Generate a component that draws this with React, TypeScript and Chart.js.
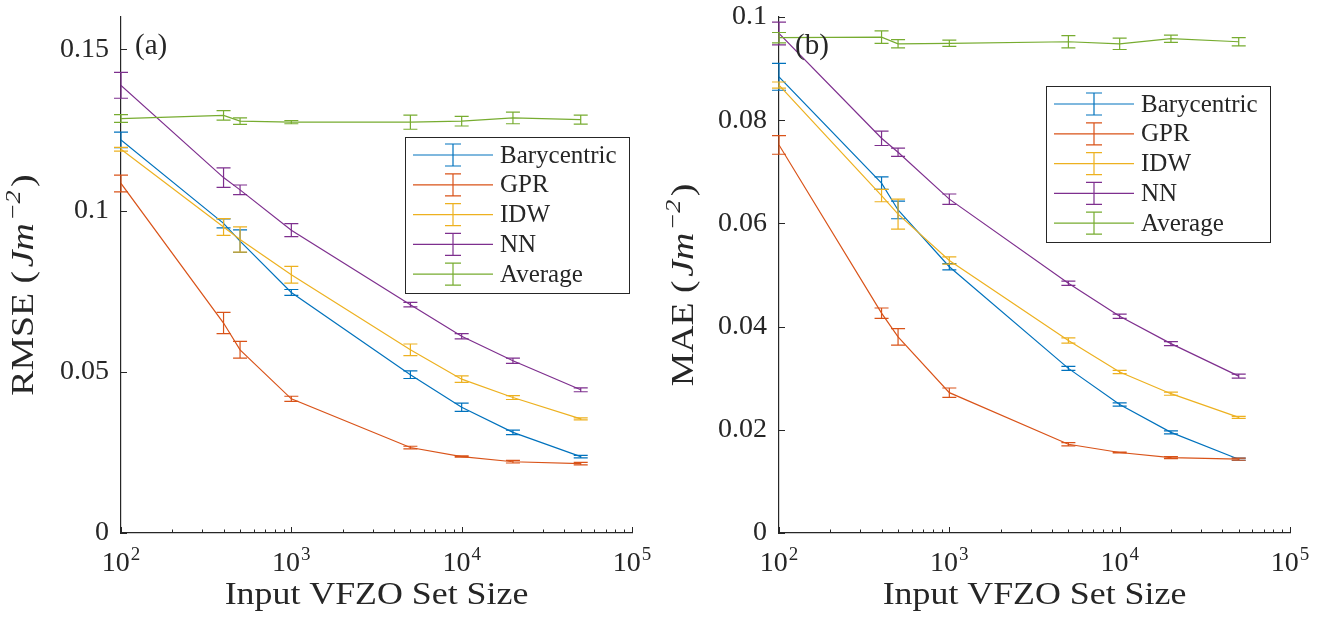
import React, { useEffect, useRef } from "react";
import { Chart, registerables } from "chart.js";

Chart.register(...registerables);

// ---------- data ----------
const xValues = [100, 400, 500, 1000, 5000, 10000, 20000, 50000];
const seriesNames = ["Barycentric", "GPR", "IDW", "NN", "Average"];
const seriesColors = ["#0072BD", "#D95319", "#EDB120", "#7E2F8E", "#77AC30"];

// Panel (a) RMSE
const rmseBarycentric = [0.1219, 0.096, 0.0905, 0.0746, 0.0491, 0.039, 0.0312, 0.0237];
const rmseBarycentricErr = [0.0024, 0.0014, 0.0035, 0.0009, 0.0012, 0.0013, 0.0007, 0.0004];
const rmseGPR = [0.1084, 0.0651, 0.0568, 0.0416, 0.0265, 0.0237, 0.0221, 0.0215];
const rmseGPRErr = [0.0026, 0.0033, 0.0026, 0.0008, 0.0004, 0.0002, 0.0004, 0.0004];
const rmseIDW = [0.119, 0.0949, 0.091, 0.0801, 0.0568, 0.0477, 0.042, 0.0354];
const rmseIDWErr = [0.0006, 0.0026, 0.0039, 0.0026, 0.0018, 0.001, 0.0006, 0.0003];
const rmseNN = [0.1388, 0.1102, 0.1064, 0.0939, 0.0708, 0.061, 0.0534, 0.0444];
const rmseNNErr = [0.004, 0.003, 0.0015, 0.002, 0.0007, 0.0008, 0.0008, 0.0006];
const rmseAverage = [0.1285, 0.1295, 0.1277, 0.1274, 0.1274, 0.1277, 0.1287, 0.1282];
const rmseAverageErr = [0.0012, 0.0015, 0.001, 0.0005, 0.0022, 0.0015, 0.0018, 0.0014];

// Panel (b) MAE
const maeBarycentric = [0.0884, 0.0678, 0.0626, 0.0516, 0.0319, 0.0249, 0.0195, 0.0143];
const maeBarycentricErr = [0.0026, 0.0012, 0.0017, 0.0006, 0.0004, 0.0003, 0.0003, 0.0002];
const maeGPR = [0.0752, 0.0426, 0.038, 0.0272, 0.0172, 0.0156, 0.0146, 0.0143];
const maeGPRErr = [0.0018, 0.001, 0.0016, 0.0009, 0.0003, 0.0001, 0.0002, 0.0002];
const maeIDW = [0.0868, 0.0654, 0.0618, 0.0528, 0.0373, 0.0312, 0.027, 0.0224];
const maeIDWErr = [0.0006, 0.0012, 0.0029, 0.0007, 0.0005, 0.0003, 0.0003, 0.0002];
const maeNN = [0.0968, 0.0765, 0.0738, 0.0647, 0.0484, 0.042, 0.0367, 0.0304];
const maeNNErr = [0.0022, 0.0014, 0.0008, 0.001, 0.0004, 0.0004, 0.0004, 0.0004];
const maeAverage = [0.096, 0.0961, 0.0948, 0.0949, 0.0952, 0.0948, 0.0958, 0.0952];
const maeAverageErr = [0.001, 0.0012, 0.0008, 0.0006, 0.0012, 0.0011, 0.0007, 0.0008];

// ticks
const xTickValues = [100, 1000, 10000, 100000];
const xTickBase = ["10", "10", "10", "10"];
const xTickExponents = ["2", "3", "4", "5"];
const xMinorMultipliers = [2, 3, 4, 5, 6, 7, 8, 9];
const rmseYTicks = [0, 0.05, 0.1, 0.15];
const rmseYTickLabels = ["0", "0.05", "0.1", "0.15"];
const maeYTicks = [0, 0.02, 0.04, 0.06, 0.08, 0.1];
const maeYTickLabels = ["0", "0.02", "0.04", "0.06", "0.08", "0.1"];

const xTitle = "Input VFZO Set Size";
const unitText = "Jm";
const unitExponent = "\u22122";

// ---------- style ----------
const FONT = "'Liberation Serif', 'Times New Roman', serif";
const AXIS = "#262626";
const TEXT = "#262626";
const STRETCH = 1.12;
const Y_STRETCH = 1.18;

type PanelCfg = {
  left: number;
  width: number;
  yAxisWidth: number;
  padRight: number;
  yMax: number;
  yTicks: number[];
  yTickLabels: string[];
  yName: string;
  panelLabel: string;
  values: number[][];
  errors: number[][];
  legendX: number;
  legendY: number;
};

const panels: PanelCfg[] = [
  {
    left: 0,
    width: 660,
    yAxisWidth: 121,
    padRight: 28,
    yMax: 0.16,
    yTicks: rmseYTicks,
    yTickLabels: rmseYTickLabels,
    yName: "RMSE",
    panelLabel: "(a)",
    values: [rmseBarycentric, rmseGPR, rmseIDW, rmseNN, rmseAverage],
    errors: [rmseBarycentricErr, rmseGPRErr, rmseIDWErr, rmseNNErr, rmseAverageErr],
    legendX: 405,
    legendY: 137,
  },
  {
    left: 660,
    width: 674,
    yAxisWidth: 119,
    padRight: 44,
    yMax: 0.1,
    yTicks: maeYTicks,
    yTickLabels: maeYTickLabels,
    yName: "MAE",
    panelLabel: "(b)",
    values: [maeBarycentric, maeGPR, maeIDW, maeNN, maeAverage],
    errors: [maeBarycentricErr, maeGPRErr, maeIDWErr, maeNNErr, maeAverageErr],
    legendX: 386,
    legendY: 86,
  },
];

function makePlugin(cfg: PanelCfg) {
  return {
    id: "panelDecor",
    afterDatasetDraw(chart: any, args: any) {
      const idx = args.index;
      const ctx = chart.ctx;
      const ys = chart.scales.y;
      const meta = chart.getDatasetMeta(idx);
      const vals = cfg.values[idx];
      const errs = cfg.errors[idx];
      ctx.save();
      ctx.strokeStyle = seriesColors[idx];
      ctx.lineWidth = 1.2;
      const cw = 7;
      meta.data.forEach((pt: any, i: number) => {
        const x = pt.x;
        const t = ys.getPixelForValue(vals[i] + errs[i]);
        const b = ys.getPixelForValue(vals[i] - errs[i]);
        ctx.beginPath();
        ctx.moveTo(x, t);
        ctx.lineTo(x, b);
        ctx.moveTo(x - cw, t);
        ctx.lineTo(x + cw, t);
        ctx.moveTo(x - cw, b);
        ctx.lineTo(x + cw, b);
        ctx.stroke();
      });
      ctx.restore();
    },
    afterDraw(chart: any) {
      const ctx = chart.ctx;
      const xs = chart.scales.x;
      const ys = chart.scales.y;
      const area = chart.chartArea;
      ctx.save();
      // inward ticks
      ctx.strokeStyle = AXIS;
      ctx.lineWidth = 1;
      ctx.beginPath();
      cfg.yTicks.forEach((v) => {
        const py = Math.round(ys.getPixelForValue(v)) + 0.5;
        ctx.moveTo(area.left, py);
        ctx.lineTo(area.left + 6, py);
      });
      xTickValues.forEach((v) => {
        const px = Math.round(xs.getPixelForValue(v)) + 0.5;
        ctx.moveTo(px, area.bottom);
        ctx.lineTo(px, area.bottom - 6);
      });
      for (let d = 0; d < xTickValues.length - 1; d++) {
        xMinorMultipliers.forEach((m) => {
          const px = Math.round(xs.getPixelForValue(m * xTickValues[d])) + 0.5;
          ctx.moveTo(px, area.bottom);
          ctx.lineTo(px, area.bottom - 3.5);
        });
      }
      ctx.stroke();

      // x tick labels with superscripts
      ctx.fillStyle = TEXT;
      ctx.textBaseline = "alphabetic";
      ctx.textAlign = "left";
      const baseFont = `28px ${FONT}`;
      const expFont = `19px ${FONT}`;
      xTickValues.forEach((v, i) => {
        const px = xs.getPixelForValue(v);
        ctx.font = baseFont;
        const w1 = ctx.measureText(xTickBase[i]).width;
        ctx.font = expFont;
        const w2 = ctx.measureText(xTickExponents[i]).width;
        const start = px - (w1 + w2 + 1) / 2;
        ctx.font = baseFont;
        ctx.fillText(xTickBase[i], start, 571);
        ctx.font = expFont;
        ctx.fillText(xTickExponents[i], start + w1 + 1, 560);
      });

      // x title (slightly widened to mimic the LaTeX font)
      ctx.font = `32px ${FONT}`;
      ctx.textAlign = "center";
      ctx.save();
      ctx.translate((area.left + area.right) / 2, 604);
      ctx.scale(STRETCH, 1);
      ctx.fillText(xTitle, 0, 0);
      ctx.restore();

      // y title (rotated, mixed styles)
      const segs = [
        { t: cfg.yName + " (", f: `32px ${FONT}`, dy: 0, gap: 3 },
        { t: unitText, f: `italic 32px ${FONT}`, dy: 0, gap: 2 },
        { t: unitExponent, f: `italic 22px ${FONT}`, dy: -13, gap: 3 },
        { t: ")", f: `32px ${FONT}`, dy: 0, gap: 0 },
      ];
      let total = 0;
      const widths = segs.map((s) => {
        ctx.font = s.f;
        const w = ctx.measureText(s.t).width + s.gap;
        total += w;
        return w;
      });
      ctx.save();
      ctx.translate(33, (area.top + area.bottom) / 2 + 10);
      ctx.rotate(-Math.PI / 2);
      ctx.scale(Y_STRETCH, 1);
      ctx.textAlign = "left";
      let cx = -total / 2;
      segs.forEach((s, i) => {
        ctx.font = s.f;
        ctx.fillText(s.t, cx, s.dy);
        cx += widths[i];
      });
      ctx.restore();

      // panel label
      ctx.font = `29px ${FONT}`;
      ctx.textAlign = "left";
      ctx.textBaseline = "middle";
      ctx.fillText(cfg.panelLabel, 135, 46);

      // legend
      const lx = cfg.legendX;
      const ly = cfg.legendY;
      const lw = 224;
      const lh = 156;
      ctx.fillStyle = "#ffffff";
      ctx.fillRect(lx, ly, lw, lh);
      ctx.strokeStyle = AXIS;
      ctx.lineWidth = 1;
      ctx.strokeRect(lx + 0.5, ly + 0.5, lw, lh);
      seriesNames.forEach((name, i) => {
        const ry = ly + 18 + i * 29.8;
        ctx.strokeStyle = seriesColors[i];
        ctx.lineWidth = 1.2;
        ctx.beginPath();
        ctx.moveTo(lx + 8, ry);
        ctx.lineTo(lx + 88, ry);
        const ex = lx + 48;
        ctx.moveTo(ex, ry - 11);
        ctx.lineTo(ex, ry + 11);
        ctx.moveTo(ex - 8, ry - 11);
        ctx.lineTo(ex + 8, ry - 11);
        ctx.moveTo(ex - 8, ry + 11);
        ctx.lineTo(ex + 8, ry + 11);
        ctx.stroke();
        ctx.fillStyle = TEXT;
        ctx.font = `25px ${FONT}`;
        ctx.textAlign = "left";
        ctx.textBaseline = "middle";
        ctx.fillText(name, lx + 95, ry + 1);
      });
      ctx.restore();
    },
  };
}

function Panel({ cfg }: { cfg: PanelCfg }) {
  const ref = useRef<HTMLCanvasElement>(null);
  useEffect(() => {
    const canvas = ref.current!;
    const chart = new Chart(canvas, {
      type: "line",
      data: {
        datasets: seriesNames.map((name, i) => ({
          label: name,
          data: xValues.map((x, j) => ({ x, y: cfg.values[i][j] })),
          borderColor: seriesColors[i],
          backgroundColor: seriesColors[i],
          borderWidth: 1.2,
          pointRadius: 0,
          fill: false,
          tension: 0,
          order: seriesNames.length - i,
        })),
      },
      options: {
        responsive: false,
        animation: false,
        devicePixelRatio: 1,
        layout: { padding: { top: 17, right: cfg.padRight, left: 0, bottom: 0 } },
        plugins: {
          legend: { display: false },
          tooltip: { enabled: false },
          title: { display: false },
        },
        scales: {
          x: {
            type: "logarithmic",
            min: 100,
            max: 100000,
            grid: { display: false, drawTicks: false },
            border: { display: true, color: AXIS, width: 1.2 },
            ticks: { display: false },
            afterFit: (s: any) => {
              s.height = 89;
              s.paddingLeft = 0;
              s.paddingRight = 0;
            },
          },
          y: {
            type: "linear",
            min: 0,
            max: cfg.yMax,
            grid: { display: false, drawTicks: false },
            border: { display: true, color: AXIS, width: 1.2 },
            ticks: {
              font: { family: FONT, size: 28 },
              color: TEXT,
              padding: 12,
              callback: (_v: any, i: number) => cfg.yTickLabels[i],
            },
            afterBuildTicks: (s: any) => {
              s.ticks = cfg.yTicks.map((v) => ({ value: v }));
            },
            afterFit: (s: any) => {
              s.width = cfg.yAxisWidth;
              s.paddingTop = 0;
              s.paddingBottom = 0;
            },
          },
        },
      } as any,
      plugins: [makePlugin(cfg)],
    });
    return () => chart.destroy();
  }, []);
  return (
    <div style={{ position: "absolute", left: cfg.left, top: 0, width: cfg.width, height: 622 }}>
      <canvas ref={ref} width={cfg.width} height={622} style={{ display: "block" }} />
    </div>
  );
}

export default function App() {
  return (
    <div style={{ position: "absolute", left: 0, top: 0, width: 1334, height: 622, background: "#ffffff" }}>
      {panels.map((p) => (
        <Panel key={p.panelLabel} cfg={p} />
      ))}
    </div>
  );
}
